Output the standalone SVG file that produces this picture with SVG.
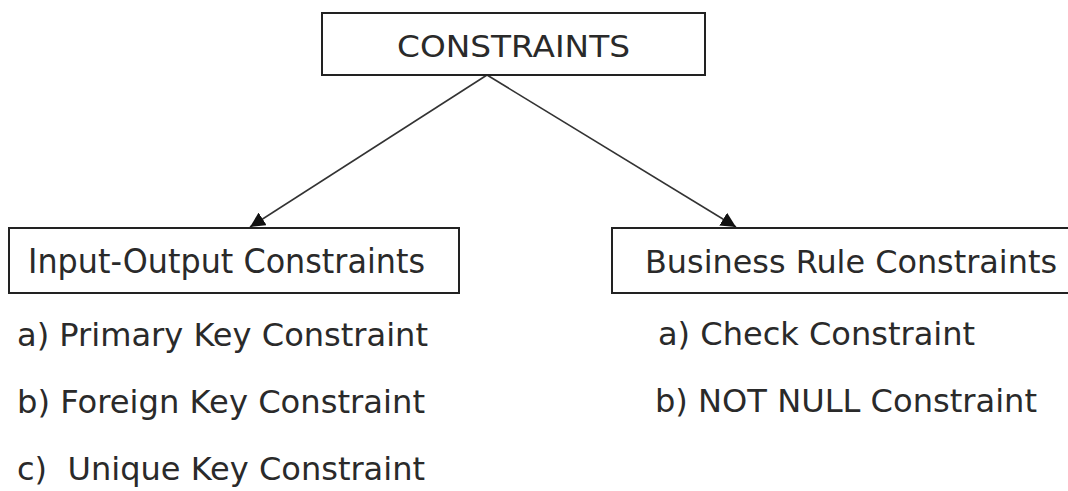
<svg xmlns="http://www.w3.org/2000/svg" width="1068" height="491" viewBox="0 0 1068 491">
<style>
.box{fill:#fff;stroke:#222;stroke-width:2}
.t{font-family:"DejaVu Sans","Liberation Sans",sans-serif;fill:#2a2a2a}
.edge{stroke:#333;stroke-width:1.6;fill:none}
</style>
<defs>
<marker id="arr" viewBox="0 0 10 10" refX="10" refY="5" markerWidth="15" markerHeight="15" markerUnits="userSpaceOnUse" orient="auto">
<path d="M0,0 L10,5 L0,10 z" fill="#111"/>
</marker>
</defs>
<rect width="1068" height="491" fill="#fff"/>
<g id="connectors">
<line class="edge" x1="487" y1="75" x2="250" y2="227" marker-end="url(#arr)"/>
<line class="edge" x1="487" y1="75" x2="736" y2="227" marker-end="url(#arr)"/>
</g>
<g id="constraints">
<rect class="box" x="322" y="13" width="383" height="62"/>
<text class="t" x="397" y="57" font-size="31" textLength="233" lengthAdjust="spacingAndGlyphs">CONSTRAINTS</text>
</g>
<g id="input-output">
<rect class="box" x="9" y="228" width="450" height="65"/>
<text class="t" x="28" y="273" font-size="33" textLength="397" lengthAdjust="spacingAndGlyphs">Input-Output Constraints</text>
</g>
<g id="business-rule">
<rect class="box" x="612" y="228" width="462" height="65"/>
<text class="t" x="645" y="273" font-size="32" textLength="412" lengthAdjust="spacingAndGlyphs">Business Rule Constraints</text>
</g>
<g id="input-output-list">
<text class="t" x="17" y="346" font-size="32" textLength="411" lengthAdjust="spacingAndGlyphs">a) Primary Key Constraint</text>
<text class="t" x="17" y="413" font-size="32" textLength="408" lengthAdjust="spacingAndGlyphs">b) Foreign Key Constraint</text>
<text class="t" x="17" y="480" font-size="32" textLength="408" lengthAdjust="spacingAndGlyphs" xml:space="preserve">c)  Unique Key Constraint</text>
</g>
<g id="business-rule-list">
<text class="t" x="658" y="345" font-size="32" textLength="317" lengthAdjust="spacingAndGlyphs">a) Check Constraint</text>
<text class="t" x="655" y="412" font-size="32" textLength="382" lengthAdjust="spacingAndGlyphs">b) NOT NULL Constraint</text>
</g>
</svg>
